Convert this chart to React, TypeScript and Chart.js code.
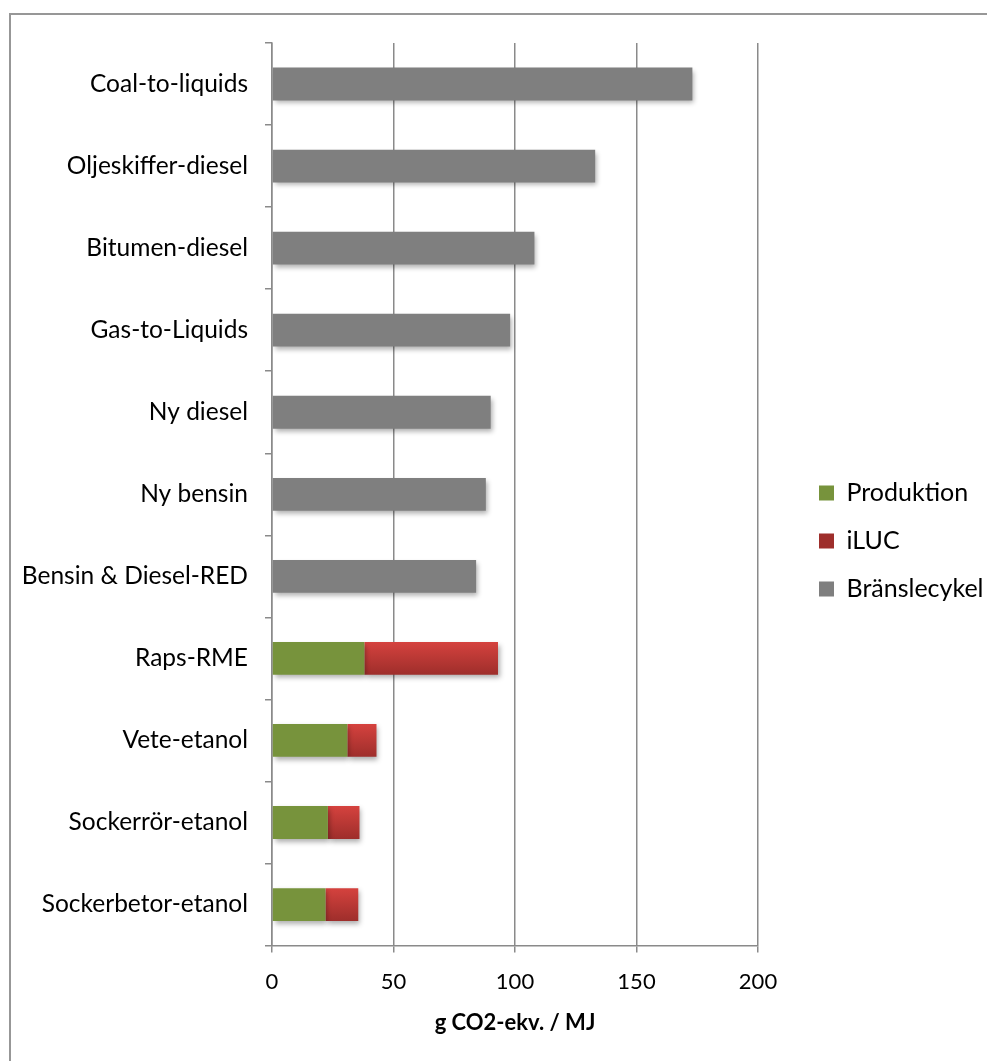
import { useEffect, useRef } from "react";
import { Chart, registerables } from "chart.js";

Chart.register(...registerables);

const categories = [
  "Coal-to-liquids",
  "Oljeskiffer-diesel",
  "Bitumen-diesel",
  "Gas-to-Liquids",
  "Ny diesel",
  "Ny bensin",
  "Bensin & Diesel-RED",
  "Raps-RME",
  "Vete-etanol",
  "Sockerrör-etanol",
  "Sockerbetor-etanol",
];
const produktion = [null, null, null, null, null, null, null, 38, 31, 23, 22];
const iluc = [null, null, null, null, null, null, null, 55, 12, 13, 13.5];
const branslecykel = [173, 133, 108, 98, 90, 88, 84, null, null, null, null];
const seriesNames = ["Produktion", "iLUC", "Bränslecykel"];
const xMin = 0;
const xMax = 200;
const xStep = 50;
const xTitle = "g CO2-ekv. / MJ";

const FONT = "Lato";
const CANVAS_W = 1020;
const CANVAS_H = 1071;
const LEGEND_PAD = 23;
const LEGEND_BOX_X = 819;

const shadowPlugin = {
  id: "barShadow",
  beforeDatasetsDraw(chart: any) {
    const ctx = chart.ctx;
    ctx.save();
    ctx.shadowColor = "rgba(0,0,0,0.32)";
    ctx.shadowBlur = 5;
    ctx.shadowOffsetX = 2;
    ctx.shadowOffsetY = 3;
  },
  afterDatasetsDraw(chart: any) {
    chart.ctx.restore();
  },
};

export default function App() {
  const ref = useRef<HTMLCanvasElement | null>(null);

  useEffect(() => {
    const canvas = ref.current;
    if (!canvas) return;

    const redFill = (c: any) => {
      const solid = "#C93E3A";
      if (c.type !== "data") return solid;
      const ya = c.chart.scales.y;
      if (!ya) return solid;
      const center = ya.getPixelForValue(c.dataIndex);
      const band = (ya.bottom - ya.top) / categories.length;
      const h = band * 0.4;
      if (!isFinite(center) || !isFinite(h) || h <= 0) return solid;
      const g = c.chart.ctx.createLinearGradient(0, center - h / 2, 0, center + h / 2);
      g.addColorStop(0, "#D5423E");
      g.addColorStop(1, "#9E2E2B");
      return g;
    };

    const chart = new Chart(canvas, {
      type: "bar",
      data: {
        labels: categories,
        datasets: [
          { label: seriesNames[0], data: produktion as any, backgroundColor: "#77933C", categoryPercentage: 1, barPercentage: 0.4 },
          { label: seriesNames[1], data: iluc as any, backgroundColor: redFill, categoryPercentage: 1, barPercentage: 0.4 },
          { label: seriesNames[2], data: branslecykel as any, backgroundColor: "#7F7F7F", categoryPercentage: 1, barPercentage: 0.4 },
        ],
      },
      options: {
        indexAxis: "y",
        responsive: false,
        animation: false,
        layout: { padding: { top: 43, left: 0, bottom: 32, right: 10 } },
        plugins: {
          tooltip: { enabled: false },
          legend: {
            position: "right",
            align: "center",
            maxWidth: 400,
            labels: {
              boxWidth: 15,
              boxHeight: 15,
              padding: LEGEND_PAD,
              color: "#000",
              font: { family: FONT, size: 25 },
            },
          },
        },
        scales: {
          x: {
            stacked: true,
            min: xMin,
            max: xMax,
            ticks: { stepSize: xStep, color: "#000", padding: 16, font: { family: FONT, size: 22 } },
            grid: { color: "#8a8a8a", lineWidth: 1.5, tickLength: 7 },
            border: { color: "#8a8a8a", width: 1.5 },
            title: {
              display: true,
              text: xTitle,
              color: "#000",
              font: { family: FONT, size: 22, weight: "bold", lineHeight: 1 },
              padding: { top: 1, bottom: 5 },
            },
          },
          y: {
            stacked: true,
            ticks: { color: "#000", padding: 17, font: { family: FONT, size: 24.5 } },
            grid: { color: "#8a8a8a", lineWidth: 1.5, drawOnChartArea: false, tickLength: 7, offset: true },
            border: { color: "#8a8a8a", width: 1.5 },
            afterFit: (s: any) => {
              s.width = 272;
            },
          },
          yR: {
            type: "linear",
            position: "right",
            display: true,
            grid: { display: false },
            border: { display: false },
            ticks: { display: false },
            afterFit: (s: any) => {
              s.width = 38;
            },
          },
        },
      },
      plugins: [shadowPlugin],
    });

    const boxX = (chart as any).legend.left + LEGEND_PAD;
    const delta = boxX - LEGEND_BOX_X;
    if (Math.abs(delta) > 0.3) {
      (chart.options.layout as any).padding.right = 10 + delta;
      chart.update();
    }

    return () => chart.destroy();
  }, []);

  return (
    <div style={{ position: "fixed", left: 0, top: 0, width: 987, height: 1061, overflow: "hidden", background: "#fff" }}>
      <div
        style={{
          position: "absolute",
          left: 9,
          top: 13,
          width: 2000,
          height: 2000,
          borderTop: "2px solid #979797",
          borderLeft: "2px solid #979797",
        }}
      />
      <canvas ref={ref} width={CANVAS_W} height={CANVAS_H} style={{ position: "absolute", left: 0, top: 0, width: CANVAS_W, height: CANVAS_H }} />
    </div>
  );
}
